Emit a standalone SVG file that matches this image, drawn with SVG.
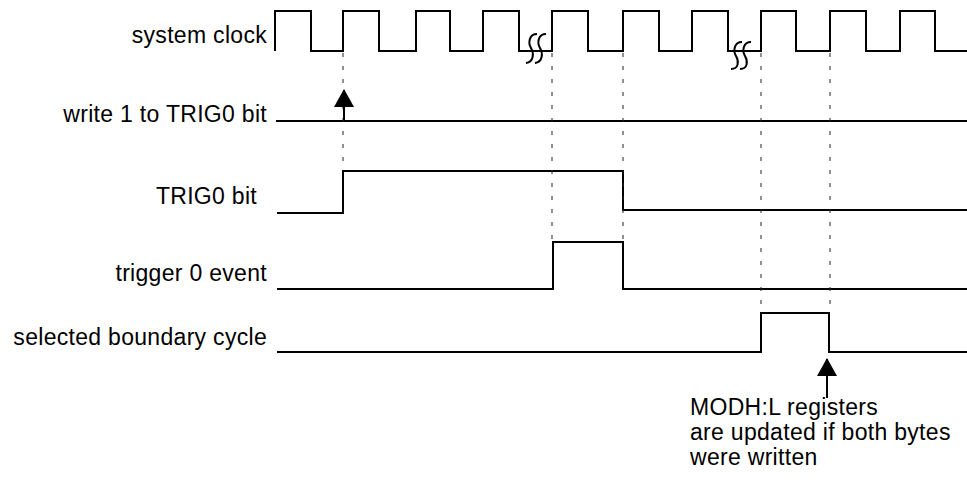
<svg xmlns="http://www.w3.org/2000/svg" width="967" height="490" viewBox="0 0 967 490">
<defs>
<style>
.lbl{font-family:"Liberation Sans",Arial,Helvetica,sans-serif;font-size:23px;letter-spacing:0.3px;fill:#000}
.end{text-anchor:end}
.sig{fill:none;stroke:#000;stroke-width:2;stroke-linejoin:miter}
.dash{fill:none;stroke:#222;stroke-width:1;stroke-dasharray:4 9}
.brk{fill:none;stroke:#000;stroke-width:2}
.arr{stroke:#000;stroke-width:2}
</style>
<marker id="ah" viewBox="0 0 18 20" refX="17" refY="10" markerWidth="18" markerHeight="20" markerUnits="userSpaceOnUse" orient="auto">
<path d="M0,0 L18,10 L0,20 Z" fill="#000"/>
</marker>
</defs>
<rect width="967" height="490" fill="#fff"/>
<g id="clock">
<text class="lbl end" x="267" y="43">system clock</text>
<path class="sig" d="M275,51 V11 H311 V51 H343 V11 H379 V51 H416 V11 H450 V51 H483 V11 H519 V51 H552 V11 H588 V51 H623 V11 H659 V51 H692 V11 H728 V51 H761 V11 H796 V51 H830 V11 H866 V51 H900 V11 H935 V51 H967"/>
<path class="brk" d="M537,34 C529,34 528,43 531,48 C534,53 534,62 526,63 M546,34 C538,34 537,43 540,48 C543,53 543,62 535,63"/>
<path class="brk" d="M742,42 C734,42 733,51 736,56 C739,61 739,69 731,69 M751,42 C743,42 742,51 745,56 C748,61 748,69 740,69"/>
</g>
<g id="write">
<text class="lbl end" x="267" y="122">write 1 to TRIG0 bit</text>
<path class="sig" d="M276,121 H967"/>
</g>
<g id="trig0bit">
<text class="lbl end" x="257" y="204">TRIG0 bit</text>
<path class="sig" d="M277,213 H343 V171 H623 V210 H967"/>
</g>
<g id="trigevent">
<text class="lbl end" x="267" y="281">trigger 0 event</text>
<path class="sig" d="M277,289 H553 V242 H623 V289 H967"/>
</g>
<g id="boundary">
<text class="lbl end" x="267" y="345">selected boundary cycle</text>
<path class="sig" d="M277,352 H761 V313 H829 V352 H967"/>
</g>
<g id="note">
<text class="lbl" x="690" y="415">MODH:L registers</text>
<text class="lbl" x="690" y="440">are updated if both bytes</text>
<text class="lbl" x="690" y="465">were written</text>
</g>
<g id="connectors">
<path class="dash" d="M343,53 V170"/>
<path class="dash" d="M552,53 V241"/>
<path class="dash" d="M623,53 V241"/>
<path class="dash" d="M761,53 V312"/>
<path class="dash" d="M830,53 V312"/>
<path class="arr" d="M344,120 V90" marker-end="url(#ah)"/>
<path class="arr" d="M827,398 V359" marker-end="url(#ah)"/>
</g>
</svg>
